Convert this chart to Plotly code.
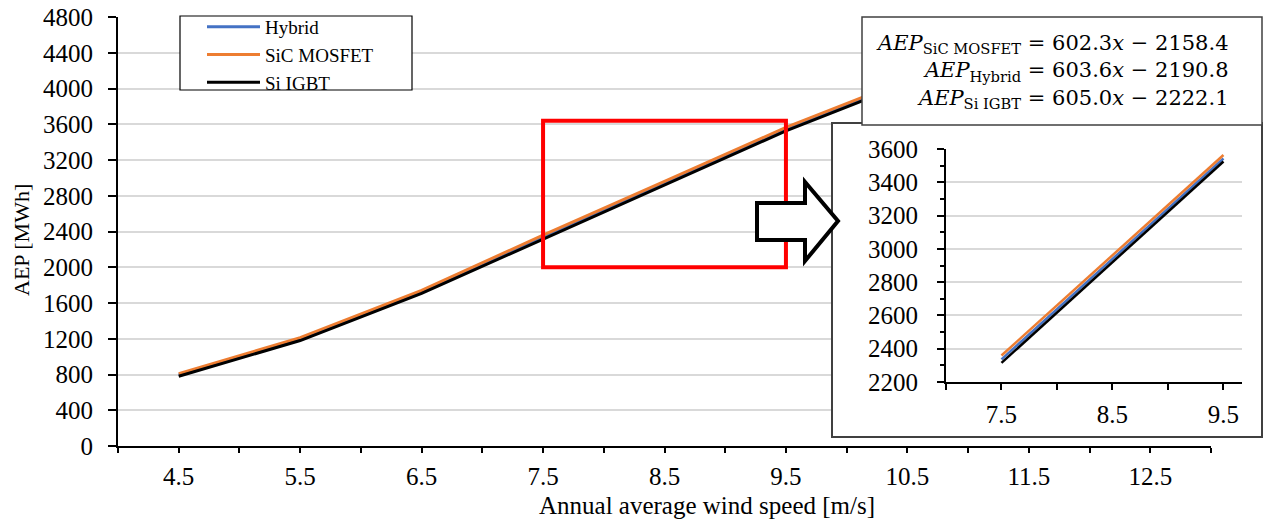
import plotly.graph_objects as go

# ---------------- data ----------------
wind_speed = [4.5, 5.5, 6.5, 7.5, 8.5, 9.5, 10.5, 11.5, 12.5]
aep_hybrid = [795, 1195, 1725, 2336, 2940, 3543, 4080, 4430, 4670]
aep_sic = [810, 1212, 1742, 2359, 2961, 3564, 4100, 4450, 4690]
aep_si_igbt = [780, 1180, 1708, 2315, 2920, 3525, 4060, 4410, 4650]

series_names = ["Hybrid", "SiC MOSFET", "Si IGBT"]
series_values = [aep_hybrid, aep_sic, aep_si_igbt]
series_colors = ["#4472C4", "#ED7D31", "#000000"]

x_tick_labels = ["4.5", "5.5", "6.5", "7.5", "8.5", "9.5", "10.5", "11.5", "12.5"]
inset_tick_labels = ["7.5", "8.5", "9.5"]
inset_lo, inset_hi = 3, 6  # indices of the zoomed range (7.5 .. 9.5)

equations = [
    "<i>AEP</i><sub>SiC MOSFET</sub> = 602.3<i>x</i> \u2212 2158.4",
    "<i>AEP</i><sub>Hybrid</sub> = 603.6<i>x</i> \u2212 2190.8",
    "<i>AEP</i><sub>Si IGBT</sub> = 605.0<i>x</i> \u2212 2222.1",
]

W, H = 1263, 520
FONT = "Liberation Serif"
EQ_FONT = "DejaVu Serif"


def px(x):
    return x / W


def py(y):
    return 1 - y / H


fig = go.Figure()

# main traces
for name, vals, col in zip(series_names, series_values, series_colors):
    fig.add_trace(go.Scatter(x=wind_speed, y=vals, name=name, mode="lines",
                             line=dict(color=col, width=3), xaxis="x", yaxis="y"))

# empty trace that creates the inset frame subplot (x2/y2)
fig.add_trace(go.Scatter(x=[], y=[], xaxis="x2", yaxis="y2", showlegend=False,
                         hoverinfo="skip"))

# inset traces
for name, vals, col in zip(series_names, series_values, series_colors):
    fig.add_trace(go.Scatter(x=wind_speed[inset_lo:inset_hi], y=vals[inset_lo:inset_hi],
                             name=name, mode="lines", showlegend=False,
                             line=dict(color=col, width=2.5), xaxis="x3", yaxis="y3"))

tickfont = dict(family=FONT, size=25, color="black")
grid = "#D9D9D9"

fig.update_layout(
    width=W, height=H,
    margin=dict(l=0, r=0, t=0, b=0),
    paper_bgcolor="white", plot_bgcolor="white",
    font=dict(family=FONT, color="black"),
    xaxis=dict(domain=[px(118), px(1211)], range=[4, 13],
               tickmode="array", tickvals=wind_speed, ticktext=x_tick_labels,
               ticks="outside", ticklen=5, tickwidth=1.5, tickcolor="black",
               minor=dict(dtick=0.5, tick0=4, ticks="outside", ticklen=5, tickwidth=1.5,
                          tickcolor="black", showgrid=False),
               showline=True, linecolor="black", linewidth=2,
               showgrid=False, zeroline=False, tickfont=tickfont, automargin=False,
               anchor="y", ticklabelstandoff=2),
    yaxis=dict(domain=[1 - 446 / H, 1 - 17 / H], range=[0, 4800], dtick=400,
               ticks="outside", ticklen=8, tickwidth=1.5, tickcolor="black",
               showline=True, linecolor="black", linewidth=2, showgrid=True,
               gridcolor=grid, gridwidth=1.5, zeroline=False, tickfont=tickfont,
               automargin=False, anchor="x", ticklabelstandoff=10),
    xaxis2=dict(domain=[px(833), px(1261)], range=[0, 1], showline=True, mirror=True,
                linecolor="#404040", linewidth=1.5, showgrid=False, zeroline=False,
                showticklabels=False, ticks="", automargin=False, anchor="y2"),
    yaxis2=dict(domain=[1 - 436 / H, 1 - 124 / H], range=[0, 1], showline=True, mirror=True,
                linecolor="#404040", linewidth=1.5, showgrid=False, zeroline=False,
                showticklabels=False, ticks="", automargin=False, anchor="x2"),
    xaxis3=dict(domain=[px(946), px(1242)], range=[7.0, 9.667],
                tickmode="array", tickvals=wind_speed[inset_lo:inset_hi],
                ticktext=inset_tick_labels,
                ticks="outside", ticklen=6, tickwidth=1.5, tickcolor="black",
                minor=dict(dtick=0.5, tick0=7, ticks="outside", ticklen=6, tickwidth=1.5,
                           tickcolor="black", showgrid=False),
                showline=True, linecolor="black", linewidth=2,
                showgrid=False, zeroline=False, tickfont=tickfont, automargin=False,
                anchor="y3", ticklabelstandoff=3),
    yaxis3=dict(domain=[1 - 382 / H, 1 - 149 / H], range=[2200, 3600], dtick=200,
                ticks="outside", ticklen=7, tickwidth=1.5, tickcolor="black",
                showline=True, linecolor="black", linewidth=2, showgrid=True,
                gridcolor=grid, gridwidth=1.5, zeroline=False, tickfont=tickfont,
                minor=dict(dtick=100, ticks="outside", ticklen=4, tickwidth=1.5,
                           tickcolor="black", showgrid=False),
                automargin=False, anchor="x3", ticklabelstandoff=14),
    showlegend=True,
    legend=dict(x=px(202), y=py(8), xanchor="left", yanchor="top",
                bgcolor="rgba(0,0,0,0)", borderwidth=0, itemwidth=53,
                font=dict(family=FONT, size=19, color="black"),
                traceorder="normal"),
)

shapes = []
# legend frame
shapes.append(dict(type="rect", xref="paper", yref="paper", x0=px(180), x1=px(412),
                   y0=py(90), y1=py(16), fillcolor="white",
                   line=dict(color="black", width=1.2), layer="above"))
# equation box
shapes.append(dict(type="rect", xref="paper", yref="paper", x0=px(862), x1=px(1262),
                   y0=py(125), y1=py(17), fillcolor="white",
                   line=dict(color="#404040", width=1.5), layer="above"))
# red zoom rectangle on main axes
shapes.append(dict(type="rect", xref="x", yref="y", x0=wind_speed[inset_lo],
                   x1=wind_speed[inset_hi - 1], y0=2000, y1=3640,
                   line=dict(color="#FF0000", width=4), fillcolor="rgba(0,0,0,0)",
                   layer="above"))
# block arrow
pts = [(757, 203), (805, 203), (805, 182), (838, 221), (805, 261), (805, 240), (757, 240)]
path = "M " + " L ".join(f"{px(a):.5f},{py(b):.5f}" for a, b in pts) + " Z"
shapes.append(dict(type="path", xref="paper", yref="paper", path=path,
                   fillcolor="white", line=dict(color="black", width=4), layer="above"))
fig.update_layout(shapes=shapes)

annotations = [
    dict(text="<br>".join(equations), xref="paper", yref="paper", x=px(1231),
         y=py(72), xanchor="right", yanchor="middle", align="right",
         showarrow=False, font=dict(family=EQ_FONT, size=21, color="black")),
    dict(text="Annual average wind speed [m/s]", xref="paper", yref="paper",
         x=px(707), y=py(505), xanchor="center", yanchor="middle",
         showarrow=False, font=dict(family=FONT, size=25, color="black")),
    dict(text="AEP [MWh]", xref="paper", yref="paper", x=px(21), y=py(240),
         xanchor="center", yanchor="middle", textangle=-90,
         showarrow=False, font=dict(family=FONT, size=22, color="black")),
]
fig.update_layout(annotations=annotations)

fig.write_html("out.html", config={"displayModeBar": False},
               post_script="document.body.style.margin='0';document.body.style.overflow='hidden';")
